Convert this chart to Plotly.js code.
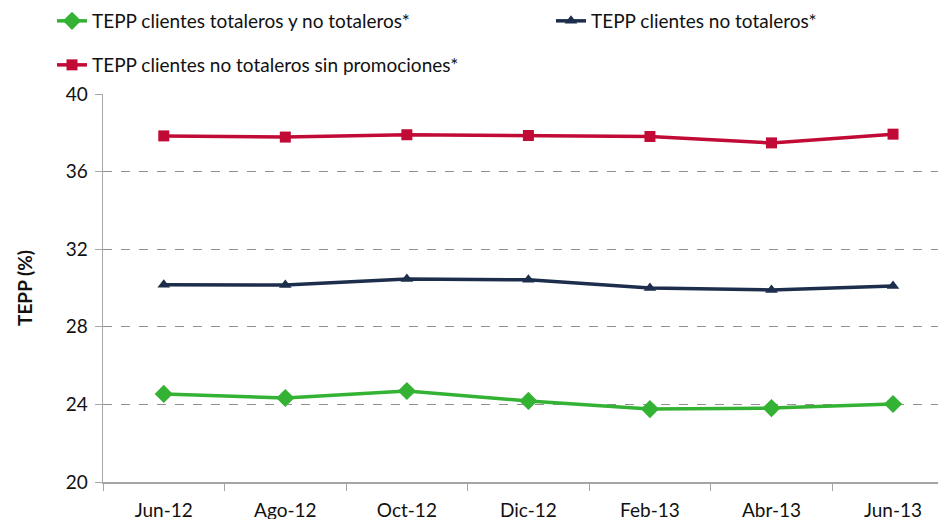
<!DOCTYPE html>
<html><head><meta charset="utf-8">
<script src="https://cdn.plot.ly/plotly-3.0.1.min.js"></script>
<style>html,body{margin:0;padding:0;background:#fff}#chart{width:938px;height:519px}</style>
</head><body><div id="chart"></div>
<script>
const categories = ["Jun-12","Ago-12","Oct-12","Dic-12","Feb-13","Abr-13","Jun-13"];
const totalerosYNo = [24.54, 24.33, 24.69, 24.18, 23.76, 23.81, 24.02];
const noTotaleros = [30.17, 30.15, 30.46, 30.42, 30.0, 29.9, 30.1];
const noTotalerosSinPromo = [37.84, 37.78, 37.9, 37.86, 37.81, 37.48, 37.93];
const yTicks = [20, 24, 28, 32, 36, 40];

const font = "Lato, 'Open Sans', sans-serif";
const txt = "#111111";
const traces = [
  {x: categories, y: totalerosYNo, name: "TEPP clientes totaleros y no totaleros*", type: "scatter", mode: "lines+markers",
   line: {color: "#33b233", width: 3.5}, marker: {symbol: "diamond", size: 14, color: "#33b233"}, legend: "legend"},
  {x: categories, y: noTotaleros, name: "TEPP clientes no totaleros*", type: "scatter", mode: "lines+markers",
   line: {color: "#1c2e4c", width: 3.5}, marker: {symbol: "triangle-up", size: 11, color: "#1c2e4c"}, legend: "legend3"},
  {x: categories, y: noTotalerosSinPromo, name: "TEPP clientes no totaleros sin promociones*", type: "scatter", mode: "lines+markers",
   line: {color: "#c20a36", width: 3.5}, marker: {symbol: "square", size: 11, color: "#c20a36"}, legend: "legend2"}
];
const legendBase = {orientation: "h", xref: "container", yref: "container", xanchor: "left", yanchor: "middle",
                    font: {family: font, size: 19, color: txt}, bgcolor: "rgba(0,0,0,0)", borderwidth: 0};
const layout = {
  width: 938, height: 519,
  margin: {l: 103, r: 0, t: 94, b: 37},
  paper_bgcolor: "#fff", plot_bgcolor: "#fff",
  font: {family: font, size: 19, color: txt},
  showlegend: true,
  legend: Object.assign({}, legendBase, {x: 52/938, y: 1 - 21/519}),
  legend3: Object.assign({}, legendBase, {x: 551/938, y: 1 - 21/519}),
  legend2: Object.assign({}, legendBase, {x: 52/938, y: 1 - 65/519}),
  xaxis: {type: "category", range: [-0.5, 6.37], showgrid: false, showline: true, linecolor: "#a6a6a6", linewidth: 1.5,
          ticks: "outside", tickson: "boundaries", ticklen: 7, tickcolor: "#a6a6a6", tickfont: {size: 19, color: txt},
          ticklabelstandoff: 11, zeroline: false},
  yaxis: {range: [20, 40], tickvals: yTicks, showgrid: true, gridcolor: "#909090", griddash: "dash", gridwidth: 1,
          showline: true, linecolor: "#a6a6a6", linewidth: 1.5, ticks: "outside", ticklen: 7, tickcolor: "#a6a6a6",
          tickfont: {size: 19, color: txt}, zeroline: false, ticklabelstandoff: 3,
          title: {text: "<b>TEPP (%)</b>", font: {size: 19, color: txt}, standoff: 28}}
};
Plotly.newPlot("chart", traces, layout, {displayModeBar: false, staticPlot: true});
</script></body></html>
